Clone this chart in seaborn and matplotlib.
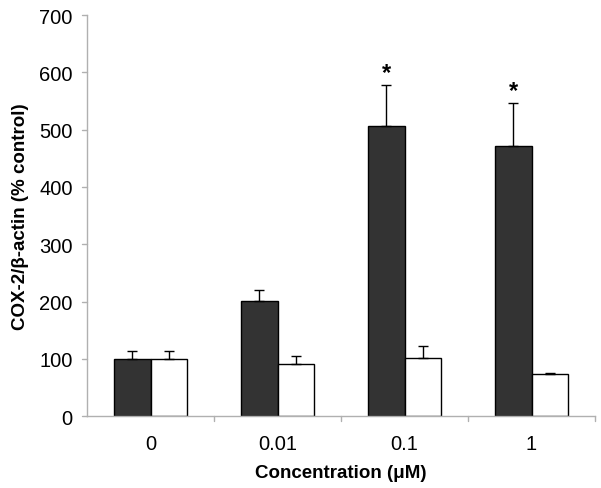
import numpy as np
import pandas as pd
import matplotlib.pyplot as plt
import seaborn as sns

concentrations = ['0', '0.01', '0.1', '1']
dark_vals = [100, 201, 506, 471]
dark_err = [13, 19, 72, 75]
white_vals = [100, 91, 101, 73]
white_err = [13, 14, 21, 3]
stars = ['', '', '*', '*']

df = pd.DataFrame({
    'conc': concentrations * 2,
    'value': dark_vals + white_vals,
    'group': ['A'] * 4 + ['B'] * 4,
})

sns.set_style('white')
plt.rcParams['font.family'] = ['Liberation Sans', 'DejaVu Sans']
plt.rcParams['text.color'] = 'black'
plt.rcParams['axes.labelcolor'] = 'black'
plt.rcParams['xtick.color'] = 'black'
plt.rcParams['ytick.color'] = 'black'

fig = plt.figure(figsize=(6.01, 4.89), dpi=100)
ax = fig.add_axes([0.145, 0.147, 0.845, 0.82])

sns.barplot(data=df, x='conc', y='value', hue='group', palette=['#333333', '#ffffff'],
            width=0.58, errorbar=None, edgecolor='black', linewidth=1, legend=False, ax=ax)

# upper error bars only
errs = dark_err + white_err
vals = dark_vals + white_vals
for patch, v, e in zip(ax.patches, vals, errs):
    xc = patch.get_x() + patch.get_width() / 2
    ax.errorbar(xc, v, yerr=[[0], [e]], fmt='none', ecolor='black', elinewidth=1,
                capsize=3.6, capthick=1)

for i, s in enumerate(stars):
    if s:
        p = ax.patches[i]
        xc = p.get_x() + p.get_width() / 2
        ax.text(xc, dark_vals[i] + dark_err[i] + 2, s, ha='center', va='bottom',
                fontsize=17, fontweight='bold')

ax.set_ylim(0, 700)
ax.set_xlim(-0.5, 3.5)
ax.set_yticks(range(0, 701, 100))
ax.set_xticks([0, 1, 2, 3])
ax.set_xticklabels(concentrations)
ax.set_ylabel('COX-2/β-actin (% control)', fontsize=13.5, fontweight='bold', labelpad=7)
ax.set_xlabel('Concentration (μM)', fontsize=13.5, fontweight='bold', labelpad=8)
ax.tick_params(axis='y', labelsize=14.5, length=0, pad=10.5)
ax.tick_params(axis='x', labelsize=14.5, length=0, pad=13)

# gray axes, ticks at category boundaries
for side in ['top', 'right']:
    ax.spines[side].set_visible(False)
for side in ['left', 'bottom']:
    ax.spines[side].set_color('#b0b0b0')
    ax.spines[side].set_linewidth(1)
for y in range(0, 701, 100):
    ax.plot([-0.54, -0.5], [y, y], color='#b0b0b0', lw=1, clip_on=False)
for xb in [0.5, 1.5, 2.5, 3.5]:
    ax.plot([xb, xb], [0, -9], color='#b0b0b0', lw=1, clip_on=False)

fig.savefig('out.png', dpi=100)
